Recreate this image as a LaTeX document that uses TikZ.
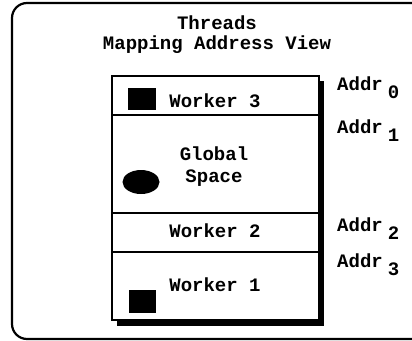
\documentclass[tikz,border=0pt]{standalone}
\usepackage{fontspec}
\setmainfont{Liberation Mono}
\begin{document}
\begin{tikzpicture}[x=1pt,y=-1pt,
  lbl/.style={font=\fontsize{19}{22}\selectfont\bfseries, inner sep=0pt, anchor=base},
  addr/.style={lbl, anchor=base west},
  rowbox/.style={draw=black, line width=1.6pt, fill=white},
  blob/.style={fill=black, draw=none}]
\useasboundingbox (0,0) rectangle (412,340);
\begin{scope}
\clip (0,0) rectangle (412,340);
\draw[line width=2.2pt, rounded corners=15pt] (12,3) rectangle (426,339);
\end{scope}
% shadow
\fill[black] (117,81) rectangle (324,326);
% rows
\draw[rowbox] (112,76) rectangle (319,115);
\draw[rowbox] (112,115) rectangle (319,213);
\draw[rowbox] (112,213) rectangle (319,252);
\draw[rowbox] (112,252) rectangle (319,320);
% blobs
\fill[blob] (128,87.5) rectangle (156,109.5);
\fill[blob] (129,290) rectangle (156,313);
\fill[blob] (141,182) ellipse [x radius=18.5, y radius=12];
% texts
\node[lbl] (t1) at (217,29) {Threads};
\node[lbl] (t2) at (217,49) {Mapping Address View};
\node[lbl] (w3) at (215,107) {Worker 3};
\node[lbl] (g1) at (214,160) {Global};
\node[lbl] (g2) at (214,182) {Space};
\node[lbl] (w2) at (215,237) {Worker 2};
\node[lbl] (w1) at (215,291) {Worker 1};
\node[addr] (a0) at (337,90) {Addr\hspace{5pt}\raisebox{-8pt}{0}};
\node[addr] (a1) at (337,133) {Addr\hspace{5pt}\raisebox{-8pt}{1}};
\node[addr] (a2) at (337,231) {Addr\hspace{5pt}\raisebox{-8pt}{2}};
\node[addr] (a3) at (337,267) {Addr\hspace{5pt}\raisebox{-8pt}{3}};
\end{tikzpicture}
\end{document}
